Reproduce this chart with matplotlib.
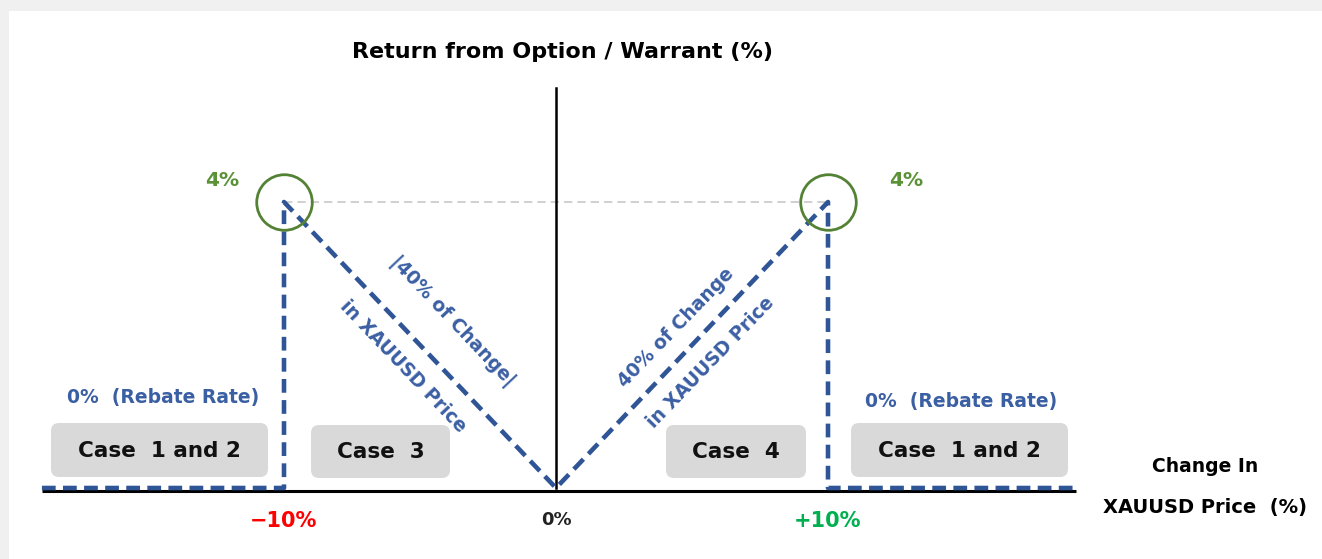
import matplotlib
matplotlib.use("Agg")
from matplotlib import pyplot as plt
from matplotlib import transforms
from matplotlib.patches import FancyBboxPatch, Rectangle

plt.rcParams["font.family"] = ["DejaVu Sans", "Noto Sans CJK KR"]

# payoff profile: return (%) vs change in XAUUSD price (%)
price_change = [-18.9, -10, -10, 0, 10, 10, 19.1]
option_return = [0, 0, 4, 0, 4, 0, 0]
barrier_levels = [-10, 10]
max_return = 4
barrier_labels = ["\u221210%", "+10%"]
barrier_colors = ["#ff0000", "#00b050"]
case_labels = ["Case  1 and 2", "Case  3", "Case  4", "Case  1 and 2"]

BLUE = "#2f5597"
TBLUE = "#3b5fa3"
GREEN = "#548235"
W, H = 1322, 559

# pixel -> data mapping used for annotation placement
X0, SX = 556.0, 27.2
Y0, SY = 488.0, 71.5


def P(px, py):
    return (px - X0) / SX, (Y0 - py) / SY


fig = plt.figure(figsize=(W / 100, H / 100), dpi=100, facecolor="#f0f0f0")
fig.patches.append(Rectangle((9 / W, 0), 1, (H - 11) / H, transform=fig.transFigure,
                             facecolor="white", edgecolor="none", zorder=-5))
ax = fig.add_axes([0, 0, 1, 1])
ax.set_facecolor("none")
ax.set_xlim(-X0 / SX, (W - X0) / SX)
ax.set_ylim((Y0 - H) / SY, Y0 / SY)
ax.axis("off")

# axes lines
down = transforms.offset_copy(ax.transData, fig=fig, y=-3, units="dots")
ax.plot([price_change[0], price_change[-1]], [0, 0], color="black", lw=2.2,
        transform=down, zorder=2, solid_capstyle="butt")
ax.plot([0, 0], [0, 5.6], color="black", lw=1.8, zorder=2)

# max return reference line
ax.plot(barrier_levels, [max_return, max_return], color="#c8c8c8", lw=1.2,
        dashes=(5, 3), zorder=1)

# payoff line
ax.plot(price_change, option_return, color=BLUE, lw=3.3, dashes=(3.0, 1.6),
        zorder=3, solid_joinstyle="miter")

# circles at peaks
ax.plot(barrier_levels, [max_return] * 2, "o", ms=40, mfc="none", mec=GREEN,
        mew=2.0, zorder=4)

for x, ha_px in zip(barrier_levels, [222, 906]):
    ax.text(*P(ha_px, 181), f"{max_return}%", color="#5b9237", fontsize=14.5,
            fontweight="bold", ha="center", va="center")

# case boxes (pixel boxes)
boxes = [(51, 423, 217, 54), (311, 425, 139, 53), (666, 425, 140, 53), (851, 423, 217, 54)]
for (bx, by, bw, bh), lab in zip(boxes, case_labels):
    ax.add_patch(FancyBboxPatch((bx, H - by - bh), bw, bh,
                                boxstyle="round,pad=0,rounding_size=8",
                                transform=transforms.IdentityTransform(),
                                facecolor="#d9d9d9", edgecolor="none", zorder=2))
    ax.text(*P(bx + bw / 2, by + bh / 2 + 1), lab, fontsize=15.5, fontweight="bold",
            ha="center", va="center", color="#111111", zorder=5)

# rebate labels
ax.text(*P(163, 398), "0%  (Rebate Rate)", color=TBLUE, fontsize=13.5,
        fontweight="bold", ha="center", va="center")
ax.text(*P(961, 402), "0%  (Rebate Rate)", color=TBLUE, fontsize=13.5,
        fontweight="bold", ha="center", va="center")

# slope labels
ax.text(*P(452, 321), "|40% of Change|", color=TBLUE, fontsize=13.5, fontweight="bold",
        rotation=-46.5, rotation_mode="anchor", ha="center", va="center")
ax.text(*P(403, 366), "in XAUUSD Price", color=TBLUE, fontsize=13.5, fontweight="bold",
        rotation=-46.5, rotation_mode="anchor", ha="center", va="center")
ax.text(*P(676, 328), "40% of Change", color=TBLUE, fontsize=13.5, fontweight="bold",
        rotation=46, rotation_mode="anchor", ha="center", va="center")
ax.text(*P(711, 362), "in XAUUSD Price", color=TBLUE, fontsize=13.5, fontweight="bold",
        rotation=46, rotation_mode="anchor", ha="center", va="center")

# x tick labels
for x, lab, c in zip(barrier_levels, barrier_labels, barrier_colors):
    ax.text(x, P(0, 521)[1], lab, color=c, fontsize=15, fontweight="bold",
            ha="center", va="center")
ax.text(0, P(0, 520)[1], "0%", color="#222222", fontsize=13, fontweight="bold",
        ha="center", va="center")

# axis titles
ax.text(*P(563, 52), "Return from Option / Warrant (%)", fontsize=16, fontweight="bold",
        ha="center", va="center")
ax.text(*P(1205, 466), "Change In", fontsize=13.5, fontweight="bold",
        ha="center", va="center")
ax.text(*P(1205, 508), "XAUUSD Price  (%)", fontsize=14, fontweight="bold",
        ha="center", va="center")

fig.savefig("out.png", dpi=100, facecolor=fig.get_facecolor())
